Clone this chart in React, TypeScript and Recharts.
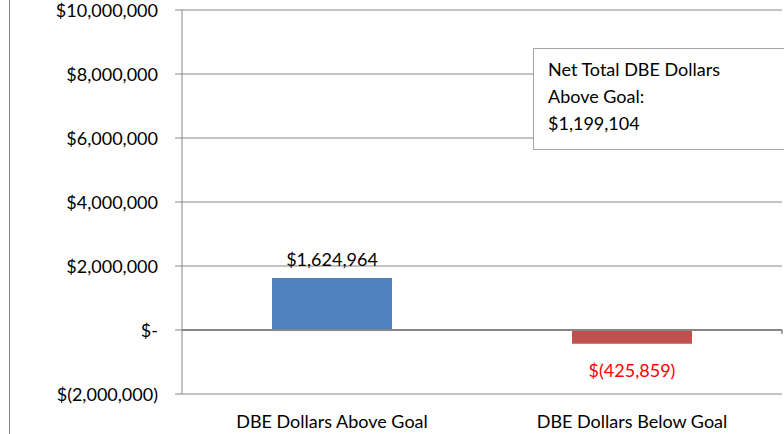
import React from "react"
import {
  BarChart,
  Bar,
  Cell,
  XAxis,
  YAxis,
  CartesianGrid,
  ReferenceLine,
  LabelList,
} from "recharts"

const categories = ["DBE Dollars Above Goal", "DBE Dollars Below Goal"]
const values = [1624964, -425859]
const barColors = ["#4F81BD", "#C0504D"]
const labelColors = ["#000000", "#FF0000"]
const yTicks = [-2000000, 0, 2000000, 4000000, 6000000, 8000000, 10000000]
const netTotal = 1199104

const FONT = "Lato, 'Open Sans', sans-serif"
const GRID = "#868686"

// Excel accounting style: $1,234 / $- / $(1,234)
const acct = (v: number) => {
  if (v === 0) return "$-"
  const s = Math.abs(v).toLocaleString("en-US")
  return v < 0 ? `$(${s})` : `$${s}`
}

const data = categories.map((name, i) => ({ name, value: values[i] }))

const ValueLabel = (props: any) => {
  const { x, y, width, height, value, index } = props
  const top = Math.min(y, y + height)
  const bottom = Math.max(y, y + height)
  const neg = value < 0
  return (
    <text
      x={x + width / 2}
      y={neg ? bottom + 26 : top - 19}
      textAnchor="middle"
      dominantBaseline="central"
      fill={labelColors[index]}
      style={{ fontFamily: FONT, fontSize: 18 }}
    >
      {acct(value)}
    </text>
  )
}

export default function App() {
  return (
    <div
      style={{
        position: "fixed",
        left: 0,
        top: 0,
        width: 784,
        height: 434,
        background: "#fff",
        fontFamily: FONT,
      }}
    >
      {/* chart frame edge */}
      <div
        style={{
          position: "absolute",
          left: 9,
          top: 0,
          width: 1,
          height: 434,
          background: GRID,
        }}
      />
      <BarChart
        width={784}
        height={434}
        data={data}
        margin={{ top: 10, right: 2, bottom: 0, left: 0 }}
        barSize={120}
      >
        <CartesianGrid vertical={false} stroke={GRID} />
        <XAxis
          dataKey="name"
          axisLine={false}
          tickLine={false}
          height={40}
          tickMargin={15}
          tick={{ fontSize: 18, fill: "#000", fontFamily: FONT }}
        />
        <XAxis
          xAxisId="edge"
          type="number"
          domain={[0, categories.length]}
          hide
        />
        <YAxis
          width={182}
          domain={[-2000000, 10000000]}
          ticks={yTicks}
          tickFormatter={acct}
          interval={0}
          stroke={GRID}
          tickSize={7}
          tickMargin={17}
          tick={{ fontSize: 18, fill: "#000", fontFamily: FONT, dy: 1 }}
        />
        <ReferenceLine y={0} stroke={GRID} strokeWidth={2} />
        {categories.map((_, i) => (
          <ReferenceLine
            key={i}
            xAxisId="edge"
            stroke={GRID}
            strokeWidth={1.5}
            segment={[
              { x: i + 1, y: 0 },
              { x: i + 1, y: -125000 },
            ]}
          />
        ))}
        <Bar dataKey="value" isAnimationActive={false}>
          {data.map((_, i) => (
            <Cell key={i} fill={barColors[i]} />
          ))}
          <LabelList dataKey="value" content={ValueLabel} />
        </Bar>
      </BarChart>
      <div
        style={{
          position: "absolute",
          left: 533,
          top: 48,
          width: 229,
          height: 82,
          padding: "7px 8px 11px 14px",
          border: "1px solid #a6a6a6",
          background: "#fff",
          fontSize: 18,
          lineHeight: "27px",
          color: "#000",
        }}
      >
        Net Total DBE Dollars
        <br />
        Above Goal:
        <br />
        {acct(netTotal)}
      </div>
    </div>
  )
}
